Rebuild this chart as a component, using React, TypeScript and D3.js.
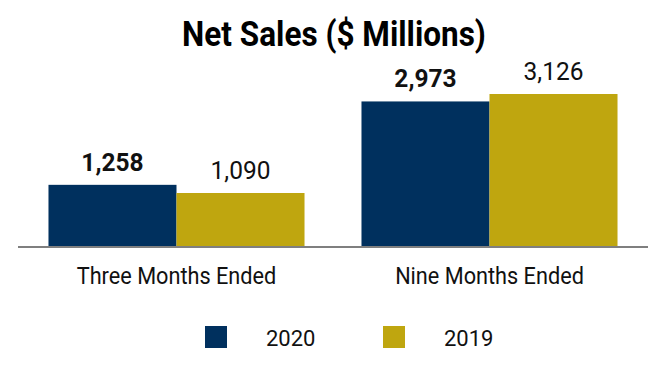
import React from "react";
import * as d3 from "d3";

const categories = ["Three Months Ended", "Nine Months Ended"];
const seriesNames = ["2020", "2019"];
const values2020 = [1258, 2973];
const values2019 = [1090, 3126];
const title = "Net Sales ($ Millions)";

const colors = ["#00305E", "#BFA60F"];

export default function App() {
  const W = 666, H = 380;
  const baseY = 246;
  const x = d3.scaleBand<string>().domain(categories).range([20, 646]).paddingInner(0.182).paddingOuter(0.091);
  const xs = d3.scaleBand<string>().domain(seriesNames).range([0, x.bandwidth()]);
  const y = d3.scaleLinear().domain([0, 3126]).range([baseY, 94]);
  const fmt = d3.format(",");
  const series = [values2020, values2019];
  const font = "Roboto, 'Noto Sans', sans-serif";
  return (
    <svg width={W} height={H} style={{ position: "absolute", left: 0, top: 0, background: "#fff" }} fontFamily={font}>
      <text transform="translate(334,46) scale(1,1.1)" textAnchor="middle" fontSize={31.5} fontWeight={700} fill="#000">{title}</text>
      {categories.map((c, ci) => (
        <g key={c}>
          {seriesNames.map((s, si) => {
            const v = series[si][ci];
            const bx = (x(c) as number) + (xs(s) as number);
            return (
              <g key={s}>
                <rect x={bx} y={y(v)} width={xs.bandwidth()} height={baseY - y(v)} fill={colors[si]} />
                <text transform={`translate(${bx + xs.bandwidth() / 2},${y(v) - 14}) scale(1,1.05)`} textAnchor="middle" fontSize={24.5} fontWeight={si === 0 ? 700 : 400} fill="#111">{fmt(v)}</text>
              </g>
            );
          })}
          <text transform={`translate(${(x(c) as number) + x.bandwidth() / 2},284) scale(1,1.1)`} textAnchor="middle" fontSize={21.7} fill="#111">{c}</text>
        </g>
      ))}
      <line x1={18} x2={648} y1={baseY + 1} y2={baseY + 1} stroke="#7f7f7f" strokeWidth={2} />
      {seriesNames.map((s, si) => (
        <g key={s} transform={`translate(${205 + si * 178},326)`}>
          <rect x={0} y={0} width={22} height={22} fill={colors[si]} />
          <text x={61} y={20} fontSize={22} fill="#111">{s}</text>
        </g>
      ))}
    </svg>
  );
}
